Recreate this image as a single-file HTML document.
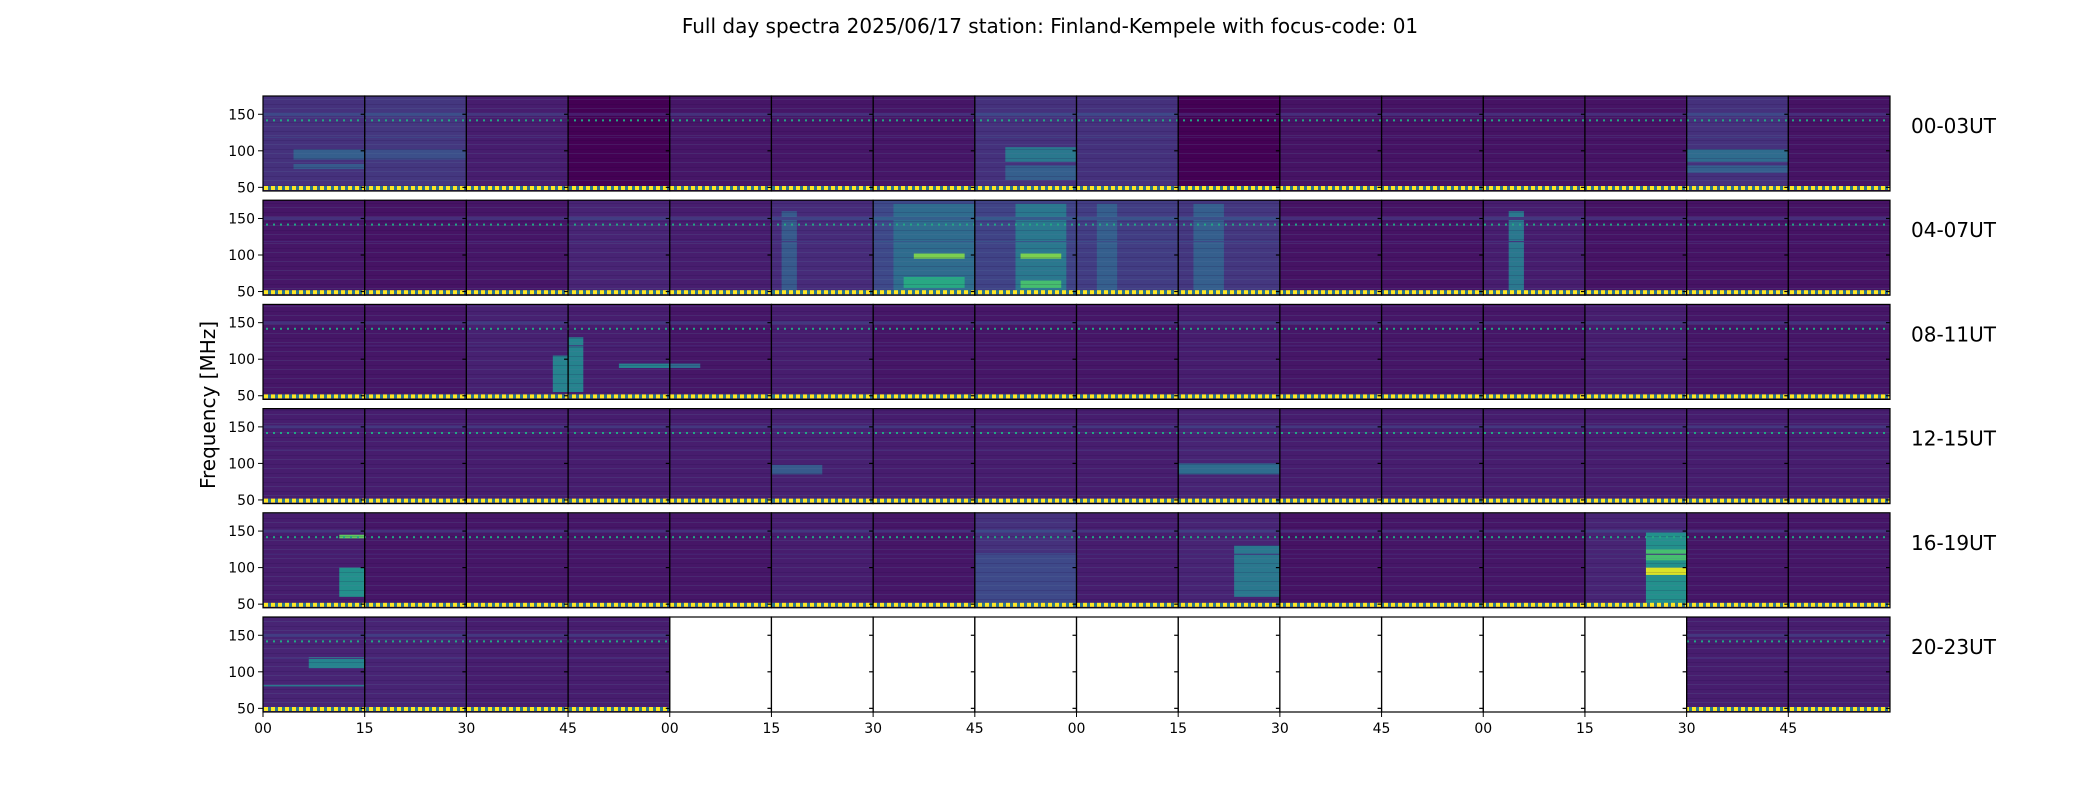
<!DOCTYPE html>
<html><head><meta charset="utf-8"><style>
html,body{margin:0;padding:0;background:#fff;}
#root{position:relative;width:2100px;height:800px;overflow:hidden;font-family:"Liberation Sans","DejaVu Sans",sans-serif;}
svg text{font-family:"DejaVu Sans","Liberation Sans",sans-serif;}
</style></head><body>
<div id="root">
<svg id="svg" width="2100" height="800" xmlns="http://www.w3.org/2000/svg">
<defs>
<pattern id="ydots" x="263" y="0" width="7" height="4" patternUnits="userSpaceOnUse">
<rect width="7" height="4" fill="#2a788e"/><rect x="1" width="4" height="4" fill="#fde725"/></pattern>
<pattern id="tdots" x="264" y="0" width="7" height="2" patternUnits="userSpaceOnUse">
<rect x="2" width="2" height="2" fill="#22a884"/></pattern>
<pattern id="stripes" x="0" y="0" width="4" height="9" patternUnits="userSpaceOnUse">
<rect y="0" width="4" height="1" fill="rgba(90,120,160,0.18)"/><rect y="5" width="4" height="1" fill="rgba(30,0,60,0.15)"/></pattern>
</defs>
<text x="1050" y="33" font-size="20" text-anchor="middle">Full day spectra 2025/06/17 station: Finland-Kempele with focus-code: 01</text>
<text transform="translate(215,405) rotate(-90)" font-size="20" text-anchor="middle">Frequency [MHz]</text>
</svg>
</div>
<script>
const rowLabels=['00-03UT','04-07UT','08-11UT','12-15UT','16-19UT','20-23UT'];
const xTickLabels=['00','15','30','45'];
const yTicks=[50,100,150];
const levels=[
[0.14,0.16,0.08,0.0,0.06,0.06,0.06,0.14,0.14,0.0,0.05,0.05,0.05,0.05,0.14,0.05],
[0.06,0.05,0.06,0.1,0.08,0.12,0.22,0.2,0.18,0.16,0.05,0.05,0.08,0.05,0.05,0.05],
[0.06,0.06,0.09,0.08,0.06,0.08,0.06,0.06,0.06,0.08,0.06,0.06,0.06,0.08,0.06,0.06],
[0.08,0.08,0.08,0.08,0.08,0.09,0.08,0.08,0.08,0.1,0.08,0.08,0.08,0.08,0.08,0.08],
[0.08,0.06,0.06,0.06,0.06,0.08,0.06,0.14,0.08,0.1,0.05,0.06,0.06,0.1,0.06,0.06],
[0.1,0.1,0.08,0.08,null,null,null,null,null,null,null,null,null,null,0.08,0.08]];
// [row, panel, fLow, fHigh, tStart, tEnd, level]
const bands=[
[0,0,88,102,0.3,1,0.3],[0,0,75,82,0.3,1,0.28],[0,1,88,102,0,1,0.24],
[0,7,85,105,0.3,1,0.4],[0,7,60,80,0.3,1,0.3],[0,14,85,102,0,1,0.35],[0,14,70,80,0,1,0.3],
[1,6,50,170,0.2,1,0.35],[1,6,95,102,0.4,0.9,0.8],[1,6,55,70,0.3,0.9,0.6],
[1,7,50,170,0.4,0.9,0.4],[1,7,95,102,0.45,0.85,0.8],[1,7,55,65,0.45,0.85,0.7],
[1,8,50,170,0.2,0.4,0.3],[1,9,50,170,0.15,0.45,0.3],[1,12,50,160,0.25,0.4,0.4],[1,5,50,160,0.1,0.25,0.28],
[2,2,55,105,0.85,1,0.45],[2,3,55,130,0,0.15,0.45],[2,3,88,94,0.5,1,0.45],[2,4,88,94,0,0.3,0.35],
[3,9,85,100,0,1,0.35],[3,5,85,98,0,0.5,0.28],
[4,0,60,100,0.75,1,0.5],[4,0,140,145,0.75,1,0.75],[4,7,50,120,0,1,0.22],[4,9,60,130,0.55,1,0.4],
[4,13,50,150,0.6,1,0.5],[4,13,90,100,0.6,1,0.95],[4,13,110,125,0.6,1,0.7],
[5,0,105,120,0.45,1,0.45],[5,0,80,82,0,1,0.4]];

const stops=[[68,1,84],[72,40,120],[62,74,137],[49,104,142],[38,130,142],[31,158,137],[53,183,121],[109,205,89],[180,222,44],[253,231,37]];
function viridis(v){v=Math.max(0,Math.min(1,v))*(stops.length-1);const i=Math.min(stops.length-2,Math.floor(v)),t=v-i;
const a=stops[i],b=stops[i+1];return 'rgb('+[0,1,2].map(k=>Math.round(a[k]+(b[k]-a[k])*t)).join(',')+')';}

const svg=document.getElementById('svg');const NS='http://www.w3.org/2000/svg';
const X0=263,PW=1627/16,ROW0=96,PITCH=104.2,H=95,FMIN=45,FMAX=175;
const xScale=(p,t)=>X0+(p+t)*PW;
const yScale=(r,f)=>ROW0+r*PITCH+(FMAX-f)/(FMAX-FMIN)*H;
function el(tag,attrs){const e=document.createElementNS(NS,tag);for(const k in attrs)e.setAttribute(k,attrs[k]);svg.appendChild(e);return e;}

levels.forEach((row,r)=>{
  const top=ROW0+r*PITCH;
  row.forEach((lv,p)=>{
    const x=xScale(p,0);
    if(lv!==null){
      const bg=el('rect',{x:x,y:top,width:PW,height:H,fill:viridis(lv)});
      
      
    } else {
      const bg=el('rect',{x:x,y:top,width:PW,height:H,fill:'#fff'});
      
      
    }
  });
});
bands.forEach(b=>{
  const [r,p,f0,f1,t0,t1,lv]=b;
  const rc=el('rect',{x:xScale(p,t0),y:yScale(r,f1),width:(t1-t0)*PW,height:yScale(r,f0)-yScale(r,f1),fill:viridis(lv)});
  
  
});
levels.forEach((row,r)=>{
  const top=ROW0+r*PITCH;
  row.forEach((lv,p)=>{
    const x=xScale(p,0);
    if(lv!==null){
      el('rect',{x:x,y:top,width:PW,height:H,fill:'url(#stripes)'});
      el('rect',{x:x,y:yScale(r,152),width:PW,height:3,fill:viridis(lv+0.08)});
      el('rect',{x:x,y:yScale(r,143),width:PW,height:2,fill:'url(#tdots)'});
      el('rect',{x:x,y:yScale(r,119),width:PW,height:1,fill:viridis(lv+0.05)});
      el('rect',{x:x,y:top+H-5,width:PW,height:4,fill:'url(#ydots)'});
    }
    el('rect',{x:x,y:top,width:PW,height:H,fill:'none',stroke:'#000','stroke-width':1.2});
    el('line',{x1:x+PW-4,x2:x+PW,y1:yScale(r,150),y2:yScale(r,150),stroke:'#000','stroke-width':1.2});
    el('line',{x1:x+PW-4,x2:x+PW,y1:yScale(r,100),y2:yScale(r,100),stroke:'#000','stroke-width':1.2});
    el('line',{x1:x+PW-4,x2:x+PW,y1:yScale(r,50),y2:yScale(r,50),stroke:'#000','stroke-width':1.2});
  });
  yTicks.forEach(v=>{
    const y=yScale(r,v);
    el('line',{x1:X0-5,x2:X0,y1:y,y2:y,stroke:'#000','stroke-width':1});
    const t=el('text',{x:X0-8,y:y+5,'font-size':14,'text-anchor':'end'});t.textContent=v;
    
    
  });
  const lab=el('text',{x:1911,y:top+37,'font-size':20});lab.textContent=rowLabels[r];
  
  
});
const bottom=ROW0+5*PITCH+H;
for(let p=0;p<16;p++){
  const x=xScale(p,0);
  el('line',{x1:x,x2:x,y1:bottom,y2:bottom+5,stroke:'#000','stroke-width':1});
  const t=el('text',{x:x,y:bottom+21,'font-size':14,'text-anchor':'middle'});t.textContent=xTickLabels[p%4];
  
  
}
</script>
</body></html>
